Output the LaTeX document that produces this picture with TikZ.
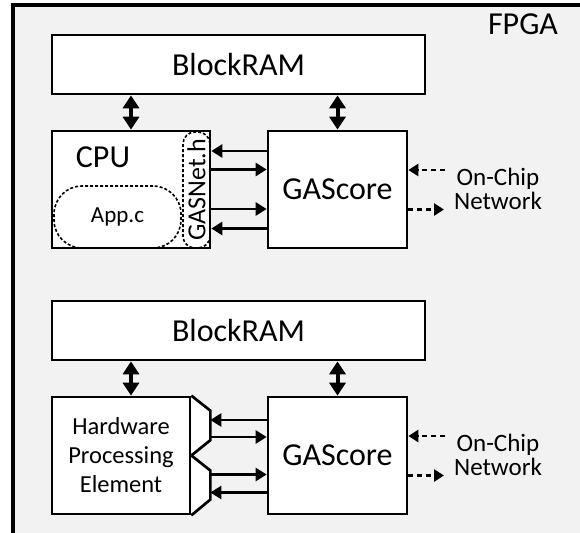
\documentclass[tikz,border=0pt]{standalone}
\usepackage{fontspec}
\setmainfont{Carlito}
\usetikzlibrary{arrows.meta,calc}
\definecolor{bggray}{HTML}{F2F2F2}
\begin{document}
\begin{tikzpicture}[x=1pt,y=-1pt,
  bigfont/.style={font=\fontsize{32}{38}\selectfont},
  box/.style={draw,line width=2.7pt,fill=white,inner sep=0pt,bigfont},
  dashbox/.style={draw,line width=1.6pt,dash pattern=on 3pt off 2pt,inner sep=0pt},
  harr/.style={line width=2.8pt,-{Triangle[length=11pt,width=13pt]}},
  dbl/.style={line width=4pt,{Triangle[length=13pt,width=16pt]}-{Triangle[length=13pt,width=16pt]}},
  darr/.style={line width=2.7pt,dash pattern=on 5pt off 4pt,-{Triangle[length=10pt,width=12pt]}},
  netlbl/.style={align=center,inner sep=0pt,font=\fontsize{25}{24}\selectfont},
  trap/.style={draw,line width=2.7pt,fill=white,line join=miter}]
\useasboundingbox (0,0) rectangle (580,532);
\fill[white] (0,0) rectangle (580,532);
\begin{scope}
  \clip (0,0) rectangle (580,532);
  \draw[line width=3.3pt,fill=bggray] (13,5) rectangle (620,570);
\end{scope}
\node[bigfont,inner sep=0pt] (fpga) at (523,24) {FPGA};

% ---------- top half ----------
\node[box,minimum width=373pt,minimum height=59pt] (ram1) at (238.5,64.5) {BlockRAM};
\node[box,minimum width=158pt,minimum height=117pt] (cpu) at (131,189.5) {};
\node[bigfont,inner sep=0pt] (cpulbl) at (103,157) {CPU};
\node[dashbox,rounded corners=28pt,minimum width=127pt,minimum height=62pt,
      font=\fontsize{23}{27}\selectfont] (appc) at (117.5,217) {App.c};
\node[dashbox,rounded corners=12pt,rotate=90,minimum width=116pt,minimum height=27pt,
      font=\fontsize{26}{30}\selectfont] (gasnet) at (196.5,190) {GASNet.h};
\node[box,minimum width=139pt,minimum height=117pt] (gas1) at (337.5,189.5) {GAScore};

\draw[dbl] (ram1.south -| cpu.north) -- (cpu.north);
\draw[dbl] (ram1.south -| gas1.north) -- (gas1.north);

\draw[harr] ([yshift=38.5pt]gas1.west) -- ([yshift=38.5pt]cpu.east);
\draw[harr] ([yshift=20pt]cpu.east) -- ([yshift=20pt]gas1.west);
\draw[harr] ([yshift=-19.5pt]cpu.east) -- ([yshift=-19.5pt]gas1.west);
\draw[harr] ([yshift=-39pt]gas1.west) -- ([yshift=-39pt]cpu.east);

\coordinate (in1) at (445,170);
\coordinate (out1) at (444,209.5);
\draw[darr] (in1) -- (gas1.east |- in1);
\draw[darr] (gas1.east |- out1) -- (out1);
\node[netlbl] (net1) at (498,188.5) {On-Chip\\Network};

% ---------- bottom half ----------
\node[box,minimum width=373pt,minimum height=59pt] (ram2) at (238.5,330.5) {BlockRAM};
\node[box,minimum width=138pt,minimum height=117pt,align=center,
      font=\fontsize{24.5}{29}\selectfont] (hpe) at (121,455.5) {Hardware\\Processing\\Element};
\node[box,minimum width=139pt,minimum height=117pt] (gas2) at (337.5,455.5) {GAScore};

\draw[trap] (hpe.north east) -- ++(19,15) -- ++(0,29.5) -- (hpe.east);
\draw[trap] (hpe.east) -- ++(19,15) -- ++(0,29) -- (hpe.south east);

\draw[dbl] (ram2.south -| cpu.north) -- (hpe.north -| cpu.north);
\draw[dbl] (ram2.south -| gas2.north) -- (gas2.north);

\draw[harr] ([yshift=35.5pt]gas2.west) -- ([xshift=19pt,yshift=35.5pt]hpe.east);
\draw[harr] ([xshift=19pt,yshift=18.5pt]hpe.east) -- ([yshift=18.5pt]gas2.west);
\draw[harr] ([xshift=19pt,yshift=-19pt]hpe.east) -- ([yshift=-19pt]gas2.west);
\draw[harr] ([yshift=-37pt]gas2.west) -- ([xshift=19pt,yshift=-37pt]hpe.east);

\coordinate (in2) at (445,436);
\coordinate (out2) at (444,475.5);
\draw[darr] (in2) -- (gas2.east |- in2);
\draw[darr] (gas2.east |- out2) -- (out2);
\node[netlbl] (net2) at (498,454.5) {On-Chip\\Network};
\end{tikzpicture}
\end{document}
